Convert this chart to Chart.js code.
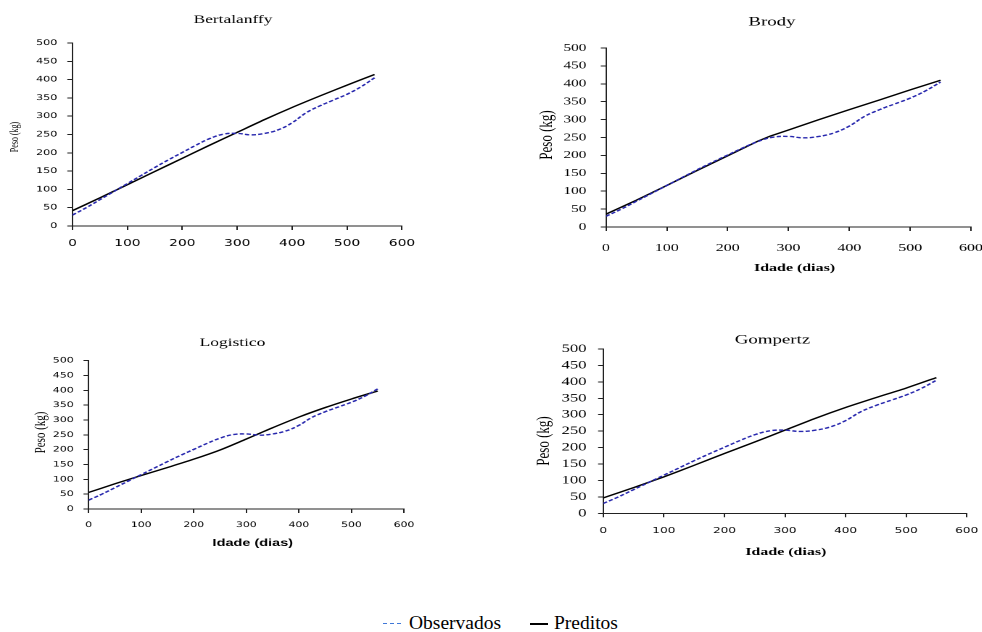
<!DOCTYPE html>
<html>
<head>
<meta charset="utf-8">
<script src="https://cdn.jsdelivr.net/npm/chart.js@4.4.1/dist/chart.umd.min.js"></script>
<style>
html,body{margin:0;padding:0;background:#fff;overflow:hidden;width:982px;height:632px;position:relative;}
.box{position:absolute;transform-origin:0 0;}
.legend{position:absolute;top:609px;font-family:'Liberation Serif','Times New Roman',serif;font-size:19.5px;color:#000;line-height:28px;white-space:nowrap;}
.smp{display:inline-block;vertical-align:middle;position:relative;top:-1px;margin-right:6px;}
.dash{width:20px;height:1.5px;background:repeating-linear-gradient(to right,#3f78d8 0,#3f78d8 4px,transparent 4px,transparent 7px);}
.solid{width:18px;height:2px;background:#000;}
</style>
</head>
<body>
<div class="box" id="b1"><canvas id="c1"></canvas></div>
<div class="box" id="b2"><canvas id="c2"></canvas></div>
<div class="box" id="b3"><canvas id="c3"></canvas></div>
<div class="box" id="b4"><canvas id="c4"></canvas></div>
<div class="legend" style="left:383px;"><span class="smp dash"></span>Observados</div>
<div class="legend" style="left:530px;"><span class="smp solid"></span>Preditos</div>
<script>
// ---------------- DATA ----------------
const SERIES_NAMES = ['Observados', 'Preditos'];
const X_TICKS = [0, 100, 200, 300, 400, 500, 600];
const Y_TICKS = [0, 50, 100, 150, 200, 250, 300, 350, 400, 450, 500];

const OBS_DAYS   = [0, 25, 50, 75, 100, 125, 150, 175, 200, 225, 250, 275, 300, 325, 350, 375, 400, 425, 450, 475, 500, 525, 550];
const OBS_WEIGHT = [30, 50, 72, 94, 116, 138, 160, 181, 201, 221, 239, 251, 253, 249, 253, 263, 282, 309, 328, 344, 360, 380, 405];

const BERT_DAYS   = [0, 50, 100, 150, 200, 250, 300, 350, 400, 450, 500, 550];
const BERT_WEIGHT = [42, 77, 113, 149, 185, 221, 256, 291, 324, 355, 385, 414];

const BRODY_DAYS   = [0, 50, 100, 150, 200, 250, 270, 300, 350, 400, 450, 500, 550];
const BRODY_WEIGHT = [36, 75, 116, 158, 199, 240, 254, 271, 300, 328, 355, 383, 410];

const LOG_DAYS   = [0, 50, 100, 150, 200, 250, 300, 325, 350, 400, 450, 500, 550];
const LOG_WEIGHT = [56, 85, 113, 140, 168, 199, 236, 255, 274, 310, 342, 371, 398];

const GOMP_DAYS   = [0, 50, 100, 150, 200, 250, 300, 350, 400, 450, 500, 550];
const GOMP_WEIGHT = [47, 78, 111, 146, 182, 217, 253, 289, 322, 352, 381, 413];

const TITLES = ['Bertalanffy', 'Brody', 'Logistico', 'Gompertz'];
const X_TITLE = 'Idade (dias)';
const Y_TITLE = 'Peso (kg)';

// ---------------- HELPERS ----------------
const S = 1.45; // horizontal stretch of the original picture
const SERIF = "'Liberation Serif','Times New Roman',serif";
const SANS = "'DejaVu Sans',Verdana,sans-serif";
const ASANS = "'Liberation Sans',Arial,sans-serif";

const pts = (xs, ys) => xs.map((x, i) => ({x: x, y: ys[i]}));

const textPlugin = {
  id: 'txt',
  afterDraw(chart, args, opts) {
    const ctx = chart.ctx;
    (opts.items || []).forEach(t => {
      ctx.save();
      ctx.font = t.font;
      ctx.fillStyle = '#000';
      ctx.textAlign = 'center';
      ctx.textBaseline = 'middle';
      ctx.translate(t.x, t.y);
      if (t.rot) ctx.rotate(-Math.PI / 2);
      ctx.fillText(t.text, 0, 0);
      ctx.restore();
    });
  }
};

function makeChart(id, cfg) {
  const box = document.getElementById('b' + id);
  const cv = document.getElementById('c' + id);
  box.style.left = cfg.left + 'px';
  box.style.top = cfg.top + 'px';
  box.style.transform = 'scaleX(' + S + ')';
  cv.width = cfg.w; cv.height = cfg.h;
  cv.style.width = cfg.w + 'px'; cv.style.height = cfg.h + 'px';
  const Wy = (cfg.L - cfg.left) / S;
  const pr = cfg.w - (cfg.R - cfg.left) / S;
  const pt = cfg.T - cfg.top;
  const Hx = cfg.h - (cfg.B - cfg.top);
  const lx = px => (px - cfg.left) / S;
  const ly = py => py - cfg.top;
  const items = [];
  items.push({text: cfg.title, font: cfg.titleFont, x: lx(cfg.titlePos[0]), y: ly(cfg.titlePos[1])});
  items.push({text: Y_TITLE, font: cfg.yFont, x: lx(cfg.yPos[0]), y: ly(cfg.yPos[1]), rot: true});
  if (cfg.xPos) items.push({text: X_TITLE, font: cfg.xFont, x: lx(cfg.xPos[0]), y: ly(cfg.xPos[1])});

  return new Chart(cv, {
    type: 'line',
    data: {
      datasets: [
        {label: SERIES_NAMES[0], data: pts(OBS_DAYS, OBS_WEIGHT), borderColor: '#2727ad', borderWidth: 1.4,
         borderDash: [3, 1.6], tension: 0.4, pointRadius: 0, fill: false},
        {label: SERIES_NAMES[1], data: pts(cfg.px, cfg.py), borderColor: '#000', borderWidth: 1.4,
         tension: cfg.tension, pointRadius: 0, fill: false}
      ]
    },
    options: {
      responsive: false,
      animation: false,
      devicePixelRatio: 2,
      layout: {padding: {top: pt, right: pr, left: 0, bottom: 0}},
      plugins: {legend: {display: false}, tooltip: {enabled: false}, txt: {items: items}},
      scales: {
        x: {
          type: 'linear', min: X_TICKS[0], max: X_TICKS[X_TICKS.length - 1],
          afterBuildTicks: s => { s.ticks = X_TICKS.map(v => ({value: v})); },
          afterFit: s => { s.height = Hx; s.paddingLeft = 0; s.paddingRight = 0; },
          grid: {display: true, drawOnChartArea: false, drawTicks: true, tickLength: 4, color: '#222', lineWidth: 1},
          border: {display: true, color: '#222', width: 1},
          ticks: {font: cfg.xTickFont, color: '#000', padding: cfg.xPad, maxRotation: 0, autoSkip: false}
        },
        y: {
          type: 'linear', min: Y_TICKS[0], max: Y_TICKS[Y_TICKS.length - 1],
          afterBuildTicks: s => { s.ticks = Y_TICKS.map(v => ({value: v})); },
          afterFit: s => { s.width = Wy; s.paddingTop = 0; s.paddingBottom = 0; },
          grid: {display: true, drawOnChartArea: false, drawTicks: true, tickLength: 3.6, color: '#222', lineWidth: 1},
          border: {display: true, color: '#222', width: 1},
          ticks: {font: cfg.yTickFont, color: '#000', padding: cfg.yPad, autoSkip: false}
        }
      }
    },
    plugins: [textPlugin]
  });
}

makeChart(1, {
  left: 0, top: 0, w: 290, h: 258, L: 72.5, R: 402, T: 43, B: 226,
  px: BERT_DAYS, py: BERT_WEIGHT, tension: 0.2,
  title: TITLES[0], titleFont: '12px ' + SERIF, titlePos: [233, 20],
  yFont: '8px ' + SERIF, yPos: [15, 137],
  xTickFont: {family: SANS, size: 9.5}, xPad: 8,
  yTickFont: {family: SANS, size: 7.7}, yPad: 6.9
});

makeChart(2, {
  left: 520, top: 0, w: 319, h: 285, L: 606, R: 971, T: 48, B: 227,
  px: BRODY_DAYS, py: BRODY_WEIGHT, tension: 0,
  title: TITLES[1], titleFont: '13px ' + SERIF, titlePos: [772, 22],
  yFont: '13px ' + SERIF, yPos: [546.7, 135],
  xFont: 'bold 11px ' + SERIF, xPos: [794.5, 268],
  xTickFont: {family: SERIF, size: 11}, xPad: 10.5,
  yTickFont: {family: SERIF, size: 10.5}, yPad: 10
});

makeChart(3, {
  left: 0, top: 320, w: 291, h: 240, L: 88.7, R: 404, T: 360.7, B: 509,
  px: LOG_DAYS, py: LOG_WEIGHT, tension: 0.3,
  title: TITLES[2], titleFont: '12px ' + SERIF, titlePos: [232.5, 342.7],
  yFont: '11px ' + SERIF, yPos: [41, 432.5],
  xFont: 'bold 10px ' + ASANS, xPos: [252.8, 543],
  xTickFont: {family: SANS, size: 7.5}, xPad: 7.5,
  yTickFont: {family: SANS, size: 7.6}, yPad: 6.7
});

makeChart(4, {
  left: 520, top: 320, w: 318, h: 245, L: 603.3, R: 966.7, T: 349, B: 513.3,
  px: GOMP_DAYS, py: GOMP_WEIGHT, tension: 0.2,
  title: TITLES[3], titleFont: '13px ' + SERIF, titlePos: [772.5, 340],
  yFont: '13px ' + SERIF, yPos: [544, 441],
  xFont: 'bold 11px ' + SERIF, xPos: [785.8, 552.3],
  xTickFont: {family: SANS, size: 8.3}, xPad: 8.5,
  yTickFont: {family: SERIF, size: 11.5}, yPad: 8
});
</script>
</body>
</html>
